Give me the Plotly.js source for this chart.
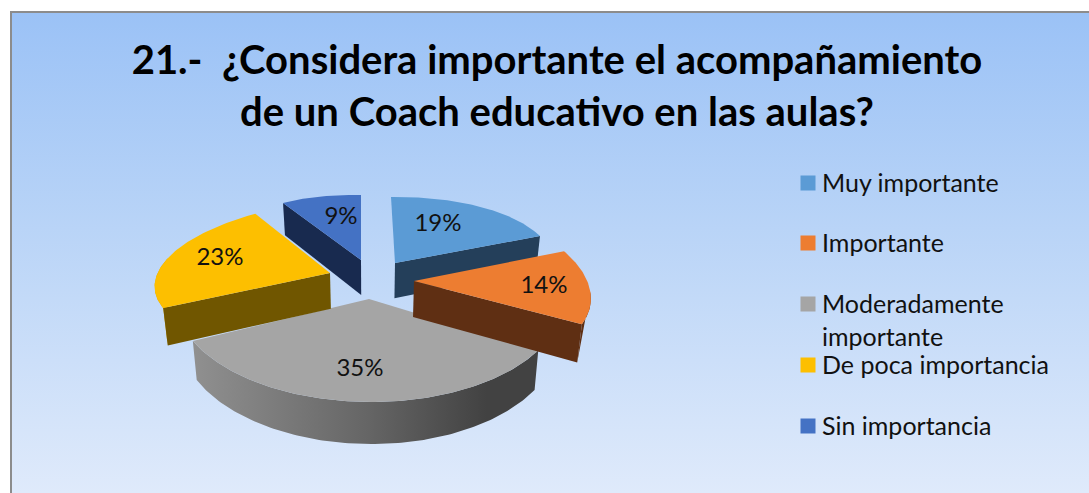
<!DOCTYPE html>
<html><head><meta charset="utf-8">
<script src="https://cdn.plot.ly/plotly-3.0.1.min.js"></script>
<style>
html,body{margin:0;padding:0;background:#fff;overflow:hidden}
#box{position:absolute;left:10px;top:11px;width:1079px;height:482px;box-sizing:border-box;border-left:2px solid #8c8c8c;border-top:2px solid #8c8c8c;
background:linear-gradient(to bottom,#9bc2f6 0%,#b9d4f7 45%,#dfeafb 100%)}
#chart{position:absolute;left:0;top:0;width:1089px;height:493px}
</style></head><body>
<div id="box"></div><div id="chart"></div>
<script>
// ---- data ----
const categories = ['Muy importante','Importante','Moderadamente importante','De poca importancia','Sin importancia'];
const values = [19,14,35,23,9];
const titleText = '21.-\u00A0 ¿Considera importante el acompañamiento<br>de un Coach educativo en las aulas?';

// ---- colours ----
const topColors  = ['#5b9bd5','#ed7d31','#a5a5a5','#fdbf00','#4472c4'];
const wallColors = ['#243f5a','#5f2f13','#a5a5a5','#705600','#182a4f'];

// ---- projection of each exploded slice (apex, horizontal & depth axes in px) ----
const proj = [
 {ax:395,ay:263,ux:157.5,uy:-2.9,vx:-4,vy:-66},
 {ax:414,ay:281,ux:174,uy:2,vx:-32,vy:-86},
 {ax:369,ay:299,ux:194,uy:2,vx:1.5,vy:-103},
 {ax:330,ay:273,ux:174,uy:-4.4,vx:22,vy:-73},
 {ax:361,ay:260,ux:145.5,uy:3.9,vx:0,vy:-65}
];
const labelOffset = [[43,-38],[130,6],[-9,71],[-110,-14],[-20,-42]];
const drawOrder = [4,0,2,3,1];
const legendLines = [['Muy importante'],['Importante'],['Moderadamente','importante'],['De poca importancia'],['Sin importancia']];
const legendRowY = [186,246,307,368,429];
const legendLine2 = 33;
const legendKeyX = 808, legendTextX = 822;

const rad = d => d*Math.PI/180;
const total = values.reduce((a,b)=>a+b,0);
let acc = 0;
const spans = values.map(v=>{const s=[acc/total*360,(acc+v)/total*360];acc+=v;return s;});

function rim(i,t){const p=proj[i],s=Math.sin(rad(t)),c=Math.cos(rad(t));
  return [p.ax+s*p.ux+c*p.vx,p.ay+s*p.uy+c*p.vy];}
function drop(pt){const d=32+(pt[1]-200)*0.05;
  return [pt[0]-0.022*(pt[0]-370),pt[1]+d];}
function poly(pts,color,extra){
  const x=pts.map(p=>p[0]),y=pts.map(p=>p[1]);
  x.push(x[0]);y.push(y[0]);
  return Object.assign({type:'scatter',mode:'lines',x,y,fill:'toself',fillcolor:color,
    line:{width:0,color:color},hoverinfo:'skip',showlegend:false},extra||{});
}
function arc(i,a,b){const n=Math.max(2,Math.ceil(Math.abs(b-a)));const out=[];
  for(let k=0;k<=n;k++)out.push(rim(i,a+(b-a)*k/n));return out;}
function rimWall(i,a,b,color,extra){const top=arc(i,a,b);
  return poly(top.concat(top.slice().reverse().map(drop)),color,extra);}
function taperWall(i,from,corner,color){return poly(arc(i,from,corner).concat([drop(rim(i,corner))]),color);}
function radialWall(i,t,color){const p=proj[i],A=[p.ax,p.ay],R=rim(i,t);
  return poly([A,R,drop(R),drop(A)],color);}

const traces=[];
drawOrder.forEach(i=>{
  const [a,b]=spans[i];
  if(i===0) traces.push(radialWall(i,b,wallColors[i]));
  if(i===1){traces.push(taperWall(i,96,b,wallColors[i]));traces.push(radialWall(i,b,wallColors[i]));}
  if(i===2) traces.push(rimWall(i,a,b,'#808080',{fillgradient:{type:'horizontal',
     colorscale:[[0,'#909090'],[0.5,'#666666'],[0.85,'#424242'],[1,'#424242']]}}));
  if(i===3){traces.push(taperWall(i,285,a,'#dca800'));traces.push(radialWall(i,a,wallColors[i]));}
  if(i===4) traces.push(radialWall(i,a,wallColors[i]));
  const p=proj[i];
  traces.push(poly([[p.ax,p.ay]].concat(arc(i,a,b)),topColors[i]));
});

// percentage labels
traces.push({type:'scatter',mode:'text',hoverinfo:'skip',showlegend:false,
  x:proj.map((p,i)=>p.ax+labelOffset[i][0]),y:proj.map((p,i)=>p.ay+labelOffset[i][1]),
  text:values.map(v=>v+'%'),textposition:'middle center',
  textfont:{family:'Lato, sans-serif',size:24,color:'#111'}});

// legend keys + labels
traces.push({type:'scatter',mode:'markers',hoverinfo:'skip',showlegend:false,
  x:categories.map(()=>legendKeyX),y:legendRowY.map(y=>y-3),
  marker:{symbol:'square',size:15,color:topColors,line:{width:0}}});
const lx=[],ly=[],lt=[];
legendLines.forEach((ls,i)=>ls.forEach((t,k)=>{lx.push(legendTextX);ly.push(legendRowY[i]+k*legendLine2);lt.push(t);}));
traces.push({type:'scatter',mode:'text',hoverinfo:'skip',showlegend:false,x:lx,y:ly,text:lt,
  textposition:'middle right',textfont:{family:'Lato, sans-serif',size:25,color:'#111'}});

const layout={width:1089,height:493,margin:{l:0,r:0,t:0,b:0},
  paper_bgcolor:'rgba(0,0,0,0)',plot_bgcolor:'rgba(0,0,0,0)',showlegend:false,
  title:{text:titleText,x:557/1089,xanchor:'center',y:1-74/493,yanchor:'top',
    font:{family:'Lato, sans-serif',size:40,color:'#000',weight:700}},
  xaxis:{range:[0,1089],visible:false,fixedrange:true},
  yaxis:{range:[493,0],visible:false,fixedrange:true}};
Plotly.newPlot('chart',traces,layout,{displayModeBar:false,staticPlot:true});
</script></body></html>
